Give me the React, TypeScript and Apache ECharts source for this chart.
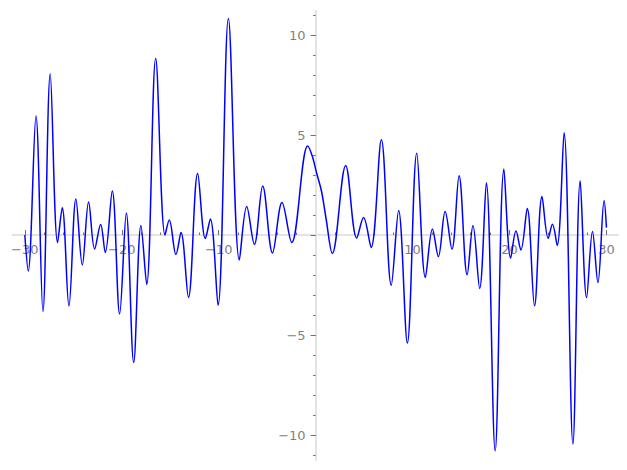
import React, { useEffect, useRef } from "react";
import * as echarts from "echarts";

// Curve: extrema (and a few shoulder points), x then y
const curveX = [
  -30.0, -29.65, -28.85, -28.13, -27.38, -26.62, -26.14, -25.45, -24.73, -24.07,
  -23.42, -22.8, -22.18, -21.7, -20.98, -20.22, -19.53, -18.77, -18.02, -17.43,
  -16.5, -15.54, -15.1, -14.41, -13.89, -13.12, -12.17, -11.38, -10.86, -10.07,
  -9.0, -7.87, -7.11, -6.32, -5.46, -4.45, -3.47, -2.47, -0.82, -0.35,
  0.1, 0.6, 1.05, 1.72, 3.1, 4.24, 4.94, 5.72, 6.78, 7.8,
  8.56, 9.46, 10.43, 11.32, 12.05, 12.66, 13.36, 14.06, 14.8, 15.63,
  16.23, 16.92, 17.61, 18.52, 19.42, 20.12, 20.67, 21.17, 21.83, 22.58,
  23.35, 23.99, 24.43, 24.92, 25.63, 26.54, 27.29, 27.95, 28.56, 29.12,
  29.76, 30.0,
];
const curveY = [
  0.0, -1.8, 5.95, -3.83, 8.05, -0.38, 1.36, -3.55, 1.8, -1.5,
  1.65, -0.7, 0.53, -0.88, 2.2, -3.95, 1.1, -6.37, 0.47, -2.47,
  8.83, 0.0, 0.75, -0.97, 0.12, -3.12, 3.07, -0.18, 0.8, -3.52,
  10.83, -1.25, 1.42, -0.47, 2.45, -0.9, 1.62, -0.38, 4.45, 3.95,
  3.1, 2.2, 0.9, -0.92, 3.48, -0.15, 0.87, -0.62, 4.76, -2.51,
  1.23, -5.4, 4.09, -2.12, 0.3, -1.08, 1.17, -0.71, 2.96, -1.99,
  0.47, -2.67, 2.61, -10.79, 3.3, -1.15, 0.2, -0.75, 1.32, -3.54,
  1.92, -0.17, 0.54, -0.52, 5.11, -10.45, 2.71, -3.13, 0.18, -2.38,
  1.73, 0.37,
];

// Tick positions
const xMajorTicks = [-30, -20, -10, 10, 20, 30];
const xMinorTicks = [
  -30, -28, -26, -24, -22, -20, -18, -16, -14, -12, -10, -8, -6, -4, -2,
  2, 4, 6, 8, 10, 12, 14, 16, 18, 20, 22, 24, 26, 28, 30,
];
const yMajorTicks = [-10, -5, 0, 5, 10];
const yMinorTicks = [
  -11, -10, -9, -8, -7, -6, -5, -4, -3, -2, -1, 0, 1, 2, 3, 4, 5, 6, 7, 8, 9, 10, 11,
];
const yLabels = [-10, -5, 5, 10];

const X_MIN = -31.25;
const X_MAX = 31.15;
const Y_MIN = -11.25;
const Y_MAX = 11.2;

const GRID_LEFT = 12.7;
const GRID_TOP = 11;
const GRID_W = 604.9;
const GRID_H = 449;

const fmt = (v: number) => (v < 0 ? "\u2212" + Math.abs(v) : String(v));

export default function App() {
  const ref = useRef<HTMLDivElement>(null);
  useEffect(() => {
    if (!ref.current) return;
    const chart = echarts.init(ref.current, null, { renderer: "svg" });
    const axisLineStyle = { color: "#e3e3e3", width: 2 };
    const tickColor = "#6e6e6e";
    const labelStyle = {
      color: "#7f7f7f",
      fontFamily: "DejaVu Sans",
      fontSize: 13,
    };
    // move the axes from the grid edges to the zero lines
    const yAxisOffset = -((0 - X_MIN) / (X_MAX - X_MIN)) * GRID_W;
    const xAxisOffset = -((0 - Y_MIN) / (Y_MAX - Y_MIN)) * GRID_H;
    const data = curveX.map((x, i) => [x, curveY[i]]);
    const xBase = {
      type: "value",
      position: "bottom",
      min: X_MIN,
      max: X_MAX,
      offset: xAxisOffset,
      axisLine: { show: true, onZero: false, lineStyle: axisLineStyle },
      splitLine: { show: false },
      z: 1,
    };
    const yBase = {
      type: "value",
      position: "left",
      min: Y_MIN,
      max: Y_MAX,
      offset: yAxisOffset,
      axisLine: { show: true, onZero: false, lineStyle: axisLineStyle },
      splitLine: { show: false },
      z: 1,
    };
    chart.setOption({
      animation: false,
      backgroundColor: "#ffffff",
      grid: {
        left: GRID_LEFT,
        top: GRID_TOP,
        width: GRID_W,
        height: GRID_H,
        containLabel: false,
        outerBoundsMode: "none",
      },
      xAxis: [
        {
          ...xBase,
          axisTick: {
            show: true,
            inside: true,
            length: 5,
            customValues: xMajorTicks,
            lineStyle: { color: tickColor, width: 1 },
          },
          axisLabel: {
            show: true,
            customValues: xMajorTicks,
            margin: 8,
            formatter: fmt,
            ...labelStyle,
          },
        },
        {
          ...xBase,
          axisTick: {
            show: true,
            inside: true,
            length: 2.5,
            customValues: xMinorTicks,
            lineStyle: { color: tickColor, width: 1 },
          },
          axisLabel: { show: false },
        },
      ],
      yAxis: [
        {
          ...yBase,
          axisTick: {
            show: true,
            inside: false,
            length: 5,
            customValues: yMajorTicks,
            lineStyle: { color: tickColor, width: 1 },
          },
          axisLabel: {
            show: true,
            customValues: yLabels,
            margin: 10,
            formatter: fmt,
            ...labelStyle,
          },
        },
        {
          ...yBase,
          axisTick: {
            show: true,
            inside: false,
            length: 2.5,
            customValues: yMinorTicks,
            lineStyle: { color: tickColor, width: 1 },
          },
          axisLabel: { show: false },
        },
      ],
      series: [
        {
          type: "line",
          xAxisIndex: 0,
          yAxisIndex: 0,
          data,
          smooth: 0.36,
          showSymbol: false,
          symbol: "none",
          lineStyle: { color: "#0000ff", width: 1.5 },
          z: 5,
        },
      ],
    });
    return () => chart.dispose();
  }, []);
  return (
    <div
      ref={ref}
      style={{ position: "fixed", left: 0, top: 0, width: 627, height: 470, background: "#fff" }}
    />
  );
}
